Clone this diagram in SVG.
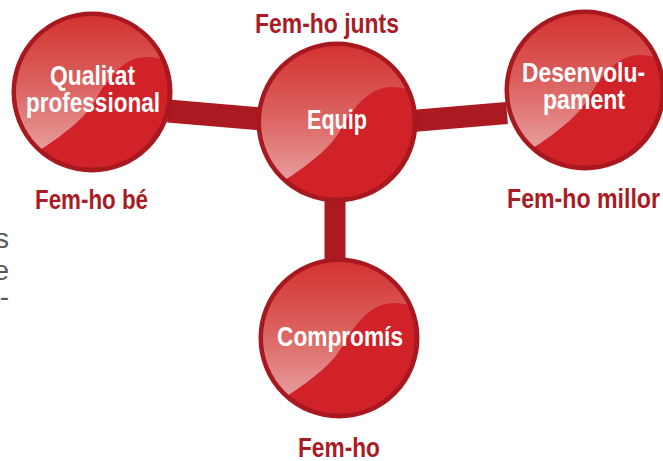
<svg xmlns="http://www.w3.org/2000/svg" xmlns:xlink="http://www.w3.org/1999/xlink" width="663" height="461" viewBox="0 0 663 461">
  <style>
    .ring { fill: #d1222a; stroke: #a8191f; stroke-width: 5; }
    .in { font-family: "Liberation Sans", Arial, sans-serif; font-weight: bold; font-size: 27px; fill: #ffffff; text-anchor: middle; }
    .lbl { font-family: "Liberation Sans", Arial, sans-serif; font-weight: bold; font-size: 27px; fill: #a81d25; text-anchor: middle; }
    .side { font-family: "Liberation Sans", Arial, sans-serif; font-size: 28px; fill: #58595b; text-anchor: end; }
    .conn { stroke: #ab1a20; fill: none; }
  </style>
  <defs>
    <linearGradient id="gl" x1="0" y1="-80" x2="0" y2="65" gradientUnits="userSpaceOnUse">
      <stop offset="0" stop-color="#d3302f"/>
      <stop offset="0.5" stop-color="#db625f"/>
      <stop offset="1" stop-color="#e8a2a3"/>
    </linearGradient>
    <clipPath id="cp">
      <circle cx="0" cy="0" r="76"/>
    </clipPath>
    <g id="ball">
      <circle class="ring" cx="0" cy="0" r="78"/>
      <path clip-path="url(#cp)" fill="url(#gl)" d="M -52,58 C -25,40 -5,25 5,5 C 20,-20 35,-35 55,-35 C 65,-35 75,-32 85,-26 L 90,-90 L -90,-90 L -90,70 Z"/>
    </g>
  </defs>

  <g id="connectors">
    <line class="conn" x1="168" y1="111" x2="262" y2="119" stroke-width="23"/>
    <line class="conn" x1="412" y1="121" x2="507" y2="113" stroke-width="22"/>
    <line class="conn" x1="335" y1="195" x2="335" y2="262" stroke-width="21"/>
  </g>

  <g id="node-qualitat">
    <use xlink:href="#ball" href="#ball" transform="translate(92,92)"/>
    <text class="in" x="92.5" y="85" textLength="85" lengthAdjust="spacingAndGlyphs">Qualitat</text>
    <text class="in" x="93" y="112" textLength="134" lengthAdjust="spacingAndGlyphs">professional</text>
    <text class="lbl" x="91.5" y="209" textLength="113" lengthAdjust="spacingAndGlyphs">Fem-ho bé</text>
  </g>

  <g id="node-equip">
    <use xlink:href="#ball" href="#ball" transform="translate(337,122)"/>
    <text class="in" x="337" y="129" textLength="60" lengthAdjust="spacingAndGlyphs">Equip</text>
    <text class="lbl" x="327" y="33" textLength="144" lengthAdjust="spacingAndGlyphs">Fem-ho junts</text>
  </g>

  <g id="node-desenvolupament">
    <use xlink:href="#ball" href="#ball" transform="translate(585,90)"/>
    <text class="in" x="583.5" y="82" textLength="123" lengthAdjust="spacingAndGlyphs">Desenvolu-</text>
    <text class="in" x="584" y="109" textLength="82" lengthAdjust="spacingAndGlyphs">pament</text>
    <text class="lbl" x="583.5" y="208" textLength="153" lengthAdjust="spacingAndGlyphs">Fem-ho millor</text>
  </g>

  <g id="node-compromis">
    <use xlink:href="#ball" href="#ball" transform="translate(339,338)"/>
    <text class="in" x="340" y="346" textLength="126" lengthAdjust="spacingAndGlyphs">Compromís</text>
    <text class="lbl" x="339" y="457" textLength="82" lengthAdjust="spacingAndGlyphs">Fem-ho</text>
  </g>

  <g id="side-text">
    <text class="side" x="9" y="248">s</text>
    <text class="side" x="9" y="280">e</text>
    <text class="side" x="9" y="306">-</text>
  </g>
</svg>
